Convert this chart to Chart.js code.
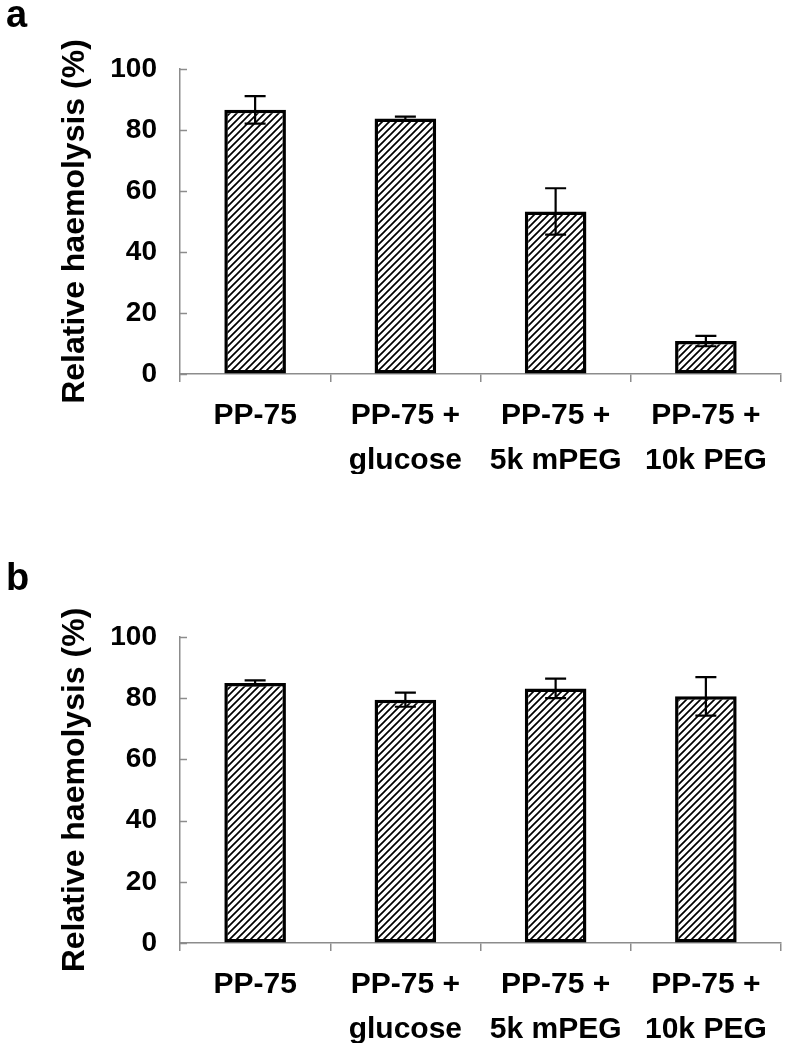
<!DOCTYPE html>
<html>
<head>
<meta charset="utf-8">
<script src="https://cdn.jsdelivr.net/npm/chart.js@4.4.1/dist/chart.umd.min.js"></script>
<style>
    body { margin: 0; background: #fff; }
    .panel { position: absolute; left: 0; width: 787px; height: 525px; }
</style>
</head>
<body>
<div class="panel" style="top:0"><canvas id="chartA" width="787" height="525"></canvas></div>
<div class="panel" style="top:525px"><canvas id="chartB" width="787" height="525"></canvas></div>
<script>
const categories = [['PP-75'], ['PP-75 +', 'glucose'], ['PP-75 +', '5k mPEG'], ['PP-75 +', '10k PEG']];
const valuesA = [86.6, 83.8, 53.3, 10.8];
const errorsA = [4.5, 0.6, 7.6, 1.7];
const valuesB = [85.0, 79.5, 83.2, 80.6];
const errorsB = [0.8, 2.3, 3.2, 6.3];
const yMin = 0, yMax = 100, yStep = 10, yLabelStep = 20;
const yTitle = 'Relative haemolysis (%)';

const GREY = '#8c8c8c';
const FONT = "'Liberation Sans', Arial, sans-serif";

function hatchPattern() {
    const c = document.createElement('canvas');
    c.width = 7; c.height = 7;
    const g = c.getContext('2d');
    g.fillStyle = '#fff';
    g.fillRect(0, 0, 7, 7);
    g.strokeStyle = '#000';
    g.lineWidth = 1.7;
    g.beginPath();
    g.moveTo(-1, 8); g.lineTo(8, -1);
    g.moveTo(-1, 1); g.lineTo(1, -1);
    g.moveTo(6, 8); g.lineTo(8, 6);
    g.stroke();
    return g.createPattern(c, 'repeat');
}

const errorBars = {
    id: 'errorBars',
    afterDatasetsDraw(chart, args, opts) {
        const { ctx, scales: { y } } = chart;
        const meta = chart.getDatasetMeta(0);
        const data = chart.data.datasets[0].data;
        ctx.save();
        ctx.strokeStyle = '#000';
        ctx.lineWidth = 2.2;
        opts.errors.forEach((e, i) => {
            const x = meta.data[i].x;
            const top = y.getPixelForValue(data[i] + e);
            const bot = y.getPixelForValue(data[i] - e);
            ctx.beginPath();
            ctx.moveTo(x, top); ctx.lineTo(x, bot);
            ctx.moveTo(x - 10.5, top); ctx.lineTo(x + 10.5, top);
            ctx.moveTo(x - 10.5, bot); ctx.lineTo(x + 10.5, bot);
            ctx.stroke();
        });
        ctx.restore();
    }
};

// y ticks point into the plot, as in the original
const innerTicks = {
    id: 'innerTicks',
    afterDraw(chart) {
        const { ctx, chartArea, scales: { y } } = chart;
        ctx.save();
        ctx.strokeStyle = GREY;
        ctx.lineWidth = 1.5;
        y.ticks.forEach(t => {
            const py = Math.round(y.getPixelForValue(t.value)) + 0.5;
            ctx.beginPath();
            ctx.moveTo(chartArea.left, py);
            ctx.lineTo(chartArea.left + 7, py);
            ctx.stroke();
        });
        ctx.restore();
    }
};

const panelLetter = {
    id: 'panelLetter',
    afterDraw(chart, args, opts) {
        const ctx = chart.ctx;
        ctx.save();
        ctx.fillStyle = '#000';
        ctx.font = `bold 38px ${FONT}`;
        ctx.textBaseline = 'alphabetic';
        ctx.fillText(opts.text, 6, opts.baseline);
        ctx.restore();
    }
};

function makeChart(id, values, errors, letter, letterBaseline, padTop, padBottom) {
    const ctx = document.getElementById(id).getContext('2d');
    return new Chart(ctx, {
        type: 'bar',
        data: {
            labels: categories,
            datasets: [{
                data: values,
                backgroundColor: hatchPattern(),
                borderColor: '#000',
                borderWidth: 3.5,
                borderSkipped: false,
                barPercentage: 0.41,
                categoryPercentage: 1
            }]
        },
        options: {
            responsive: false,
            animation: false,
            layout: { padding: { top: padTop, right: 6, bottom: padBottom, left: 0 } },
            plugins: {
                legend: { display: false },
                tooltip: { enabled: false },
                errorBars: { errors },
                panelLetter: { text: letter, baseline: letterBaseline }
            },
            scales: {
                x: {
                    offset: true,
                    grid: { display: true, drawOnChartArea: false, drawTicks: true, tickLength: 8, offset: true, color: GREY, lineWidth: 1.5 },
                    border: { display: true, color: GREY, width: 1.5 },
                    ticks: { color: '#000', padding: 11, maxRotation: 0, autoSkip: false, font: { family: FONT, size: 30, weight: 'bold', lineHeight: 1.5 } },
                    afterFit: s => { s.height = 100; }
                },
                y: {
                    min: yMin,
                    max: yMax,
                    grid: { display: true, drawOnChartArea: false, drawTicks: false },
                    border: { display: true, color: GREY, width: 1.5 },
                    ticks: {
                        stepSize: yStep,
                        padding: 23,
                        color: '#000',
                        font: { family: FONT, size: 28, weight: 'bold' },
                        callback: v => (v % yLabelStep === 0 ? v : '')
                    },
                    title: {
                        display: true,
                        text: yTitle,
                        color: '#000',
                        padding: { top: 56, bottom: 0 },
                        font: { family: FONT, size: 32, weight: 'bold', lineHeight: 1.2 }
                    },
                    afterFit: s => { s.width = 180; }
                }
            }
        },
        plugins: [errorBars, innerTicks, panelLetter]
    });
}

makeChart('chartA', valuesA, errorsA, 'a', 27, 69, 51);
makeChart('chartB', valuesB, errorsB, 'b', 65, 112, 7);
</script>
</body>
</html>
